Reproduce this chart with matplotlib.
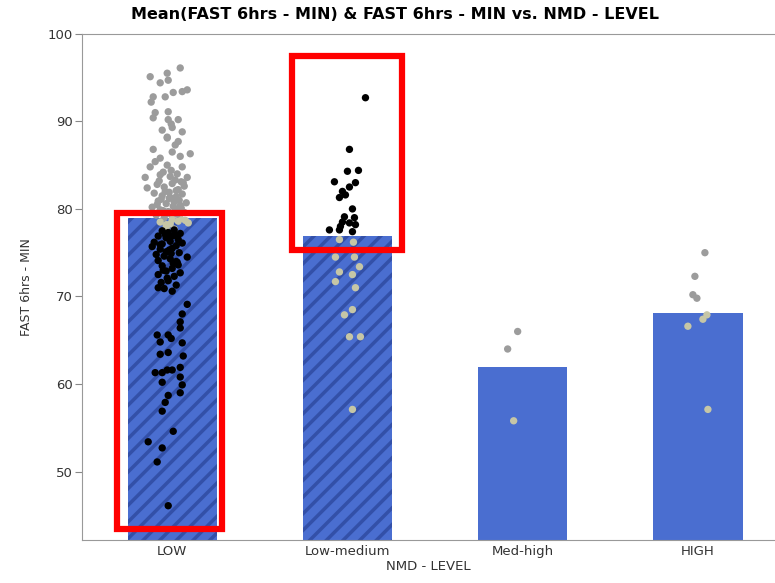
import matplotlib.pyplot as plt
from matplotlib.patches import Rectangle
import numpy as np

# === Data ===
levels = ['LOW', 'Low-medium', 'Med-high', 'HIGH']
level_means = [79.0, 76.9, 61.9, 68.1]
hatched = [True, True, False, False]

# jitter offsets in pixels (175 px per category) and values
low_gray_dx = [8, -22, -5, -12, -4, -19, -7, 1, 10, 15, -17, -4, -19, -4, 6, -10, 0, 10, -5, -5,
               3, -19, 0, -12, 8, -22, -5, 10, -27, -12, -2, 15, -25, -15, -8, 0, 6, 12, -18, -10,
               -3, 4, 10, -14, -6, 2, 8, 14, -20, -12, -4, 4, 12, -16, -8, 0, 8, -12, -2, 6, -6, 2, 16,
               -9, -1, 5, -13, 3, 11, -7, -3, 7, -11, 1, 9, -15, -5, 5, -9, 0, 13, -6, 3, -2, 4,
               -17, 9, -8, 6, -1, -21, 18]
low_gray_y = [96.1, 95.1, 95.5, 94.4, 94.7, 92.8, 92.8, 93.3, 93.4, 93.6, 91.0, 91.1, 90.4, 90.2, 90.2,
              89.0, 89.3, 88.8, 88.2, 88.1, 87.3, 86.8, 86.5, 85.8, 86.0, 84.8, 85.0, 84.8, 83.6, 83.9,
              83.7, 83.6, 82.4, 82.8, 82.5, 82.9, 82.2, 82.6, 81.8, 81.5, 81.9, 81.4, 81.7, 80.9, 80.6,
              80.8, 80.4, 80.7, 80.2, 79.9, 79.7, 79.9, 79.6, 79.3, 79.0, 79.2, 78.9, 78.5, 78.3, 78.6,
              77.9, 77.7, 78.4,
              84.2, 84.4, 84.0, 83.2, 83.3, 83.0, 82.0, 81.2, 81.0, 81.1, 80.3, 80.1, 80.5, 79.5, 79.4,
              79.8, 78.8, 78.7, 78.2, 80.0, 81.3, 82.1, 85.4, 83.1, 79.6, 87.7, 89.7, 92.2, 86.3]
low_black_dx = [-10, -4, 2, 8, -14, -6, 0, 6, -18, -10, -2, 4, 10, -12, -6, 0, -20, 15, -8, -2, 4,
                -14, -10, 0, 6, -6, -14, 2, 8, -11, -4, 4, -8, 0, -14, 15, 10, 8, 8, -15, -4, -1,
                -12, 10, -12, -4, 11, -17, -10, -5, 0, 8, 8, -10, 10, 8, -4, -7, -10, 1, -24, -10,
                -15, -4, -7, 3, -12, -3, 7, -16, -1, 5, -9, -5, 1]
low_black_y = [77.5, 77.3, 77.6, 77.2, 76.9, 76.7, 76.9, 76.5, 76.2, 76.0, 76.3, 75.8, 76.1, 75.4,
               75.1, 75.5, 75.7, 74.5, 74.6, 74.3, 74.0, 74.1, 73.5, 73.2, 73.6, 72.9, 72.5, 72.3,
               72.7, 71.6, 71.8, 71.3, 70.9, 70.6, 71.0, 69.1, 68.0, 67.1, 66.4, 65.6, 65.6, 65.2,
               64.8, 64.7, 63.4, 63.6, 63.2, 61.3, 61.3, 61.6, 61.6, 61.9, 60.8, 60.2, 59.9, 59.0,
               58.7, 57.9, 56.9, 54.6, 53.4, 52.7, 51.1, 46.1,
               77.1, 77.0, 75.9, 75.3, 75.0, 74.8, 74.9, 73.9, 73.0, 72.1, 73.8]
lowmed_black_dx = [18, 2, 0, 11, -13, 8, 2, -5, -2, -8, 5, -3, 7, -5, 2, 8, -7, -18, -8, 5]
lowmed_black_y = [92.7, 86.8, 84.3, 84.4, 83.1, 83.0, 82.5, 82.0, 81.6, 81.3, 80.0, 79.1, 79.0,
                  78.5, 78.4, 78.2, 78.0, 77.6, 77.6, 77.4]
lowmed_gray_dx = [-8, 6, -12, 7, 12, -8, 5, -12, 8, 5, -3, 2, 13, 5]
lowmed_gray_y = [76.5, 76.2, 74.5, 74.5, 73.4, 72.8, 72.5, 71.7, 71.0, 68.5, 67.9, 65.4, 65.4, 57.1]
medhigh_gray_dx = [-5, -15, -9]
medhigh_gray_y = [66.0, 64.0, 55.8]
high_gray_dx = [7, -3, -5, -1, 9, 5, -10, 10]
high_gray_y = [75.0, 72.3, 70.2, 69.8, 67.9, 67.4, 66.6, 57.1]

gray_sets = [(0, low_gray_dx, low_gray_y), (1, lowmed_gray_dx, lowmed_gray_y),
             (2, medhigh_gray_dx, medhigh_gray_y), (3, high_gray_dx, high_gray_y)]
black_sets = [(0, low_black_dx, low_black_y), (1, lowmed_black_dx, lowmed_black_y)]

plt.rcParams['hatch.linewidth'] = 2.5

fig = plt.figure(figsize=(7.75, 5.83), dpi=100)
ax = fig.add_axes([0.106, 0.074, 0.894, 0.868])

x = np.arange(len(levels))
bars = ax.bar(x, level_means, width=0.51, color='#4a6ed0', edgecolor='#3350a8',
              linewidth=0, zorder=1)
for b, h in zip(bars, hatched):
    if h:
        b.set_hatch('//')

px = 175.0
for i, dx, y in gray_sets:
    dx = np.array(dx) / px
    y = np.array(y)
    cols = ['#c6c6a6' if v < level_means[i] else '#9c9c9c' for v in y]
    ax.scatter(i + dx, y, s=28, c=cols, edgecolors='none', zorder=3)
for i, dx, y in black_sets:
    ax.scatter(i + np.array(dx) / px, y, s=28, c='black', edgecolors='none', zorder=4)

# red highlight boxes
ax.add_patch(Rectangle((-0.314, 43.4), 0.60, 36.1, fill=False, edgecolor='#ff0000',
                       linewidth=4.5, zorder=5, clip_on=False))
ax.add_patch(Rectangle((0.686, 75.3), 0.628, 22.2, fill=False, edgecolor='#ff0000',
                       linewidth=4.5, zorder=5, clip_on=False))

ax.set_xlim(-0.514, 3.44)
ax.set_ylim(42.2, 100)
ax.set_yticks([50, 60, 70, 80, 90, 100])
ax.set_xticks(x)
ax.set_xticklabels(levels)
ax.tick_params(axis='y', length=5, color='#888888', labelsize=9.5, labelcolor='#333333', pad=2)
ax.tick_params(axis='x', length=0, labelsize=9.5, labelcolor='#333333', pad=4)
for s in ['left', 'bottom', 'top']:
    ax.spines[s].set_color('#999999')
ax.spines['right'].set_visible(False)

ax.set_xlabel('NMD - LEVEL', fontsize=9.5, color='#333333', labelpad=1)
ax.set_ylabel('FAST 6hrs - MIN', fontsize=9, color='#333333', labelpad=10)
fig.suptitle('Mean(FAST 6hrs - MIN) & FAST 6hrs - MIN vs. NMD - LEVEL', fontsize=11.5,
             fontweight='bold', x=0.51, y=0.988)

fig.savefig('out.png', dpi=100)
